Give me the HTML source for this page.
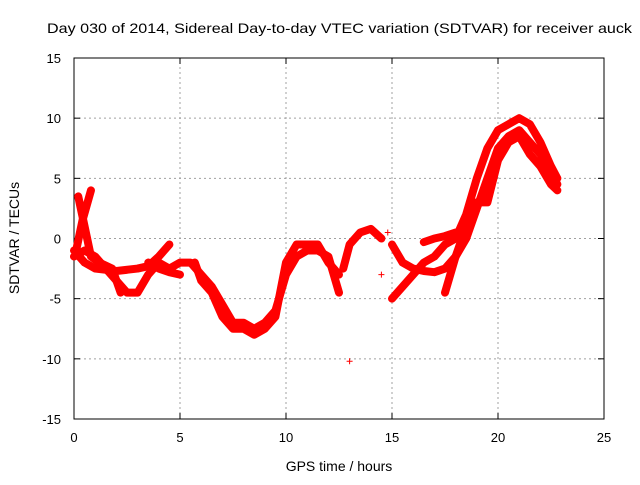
<!DOCTYPE html>
<html><head><meta charset="utf-8"><style>
body{margin:0;background:#fff}
svg text{font-family:"Liberation Sans",sans-serif;font-size:13px;fill:#000}
</style></head><body>
<svg width="640" height="480">
<rect width="640" height="480" fill="#fff"/>
<text x="47" y="33" textLength="585" lengthAdjust="spacingAndGlyphs" style="font-size:14px">Day 030 of 2014, Sidereal Day-to-day VTEC variation (SDTVAR) for receiver auck</text>
<g id="grid"></g><g id="axes"></g><g id="marks"></g>
<text x="339" y="471" text-anchor="middle" style="font-size:14px">GPS time / hours</text>
<text transform="translate(19,238) rotate(-90)" text-anchor="middle" style="font-size:14px">SDTVAR / TECUs</text>
</svg>
<script>
const xTicks=[0,5,10,15,20,25];
const yTicks=[-15,-10,-5,0,5,10,15];
const trackA=[[0,-1.5],[0.5,-1],[1,-1.5],[1.5,-2.5],[2,-3.5],[2.5,-4.5],[3,-4.5],[3.5,-3],[4,-2],[4.5,-2.5],[5,-2],[5.5,-2],[6,-3],[6.5,-4],[7,-5.5],[7.5,-7],[8,-7],[8.5,-7.5],[9,-7],[9.5,-6],[10,-3],[10.5,-1.5],[11,-1],[11.5,-1],[12,-1.5],[12.5,-4.5]];
const trackB=[[0,-1],[0.5,-2],[1,-2.5],[2,-2.7],[3,-2.5],[3.5,-2.3],[4,-1.5],[4.5,-0.5]];
const trackX1=[[0.2,3.5],[0.5,1],[0.8,-1.5],[1.2,-2],[1.8,-2.5],[2.2,-4.5]];
const trackX2=[[0.1,-1],[0.4,1.5],[0.8,4]];
const trackC=[[5.7,-2],[6,-3.5],[6.5,-4.5],[7,-6.5],[7.5,-7.5],[8,-7.5],[8.5,-8],[9,-7.5],[9.5,-6.5],[10,-2],[10.5,-0.5],[11,-0.5],[11.5,-0.5],[12,-2],[12.5,-3]];
const trackD=[[3.5,-2],[4,-2.5],[4.5,-2.8],[5,-3]];
const trackE=[[12.7,-2.5],[13,-0.5],[13.5,0.5],[14,0.8],[14.5,0]];
const trackF=[[15,-0.5],[15.5,-2],[16,-2.5],[16.5,-2.7],[17,-2.8],[17.5,-2.5],[18,-1.5],[18.5,0],[19,2.5],[19.5,5],[20,7.5],[20.5,8.5],[21,9],[21.5,8],[22,7],[22.5,5.5],[22.8,4.5]];
const trackG=[[15,-5],[15.5,-4],[16,-3],[16.5,-2],[17,-1.5],[17.5,-0.5],[18,0],[18.5,2],[19,5],[19.5,7.5],[20,9],[20.5,9.5],[21,10],[21.5,9.5],[22,8],[22.5,6],[22.8,5]];
const trackH=[[17.5,-4.5],[18,-1.5],[18.5,1],[19,3],[19.5,3],[20,6.5],[20.5,8],[21,8.5],[21.5,7],[22,6],[22.5,4.5],[22.8,4]];
const trackI=[[16.5,-0.3],[17,0],[17.5,0.2],[18,0.5],[18.5,0.5]];
const isolated=[[13,-10.2],[14.5,-3],[14.8,0.5]];
const tracks=[trackA,trackB,trackX1,trackX2,trackC,trackD,trackE,trackF,trackG,trackH,trackI];

const X0=74,X1=604,Y0=419,Y1=58;
const sx=v=>X0+(v-0)/(25-0)*(X1-X0);
const sy=v=>Y0-(v+15)/30*(Y0-Y1);
const NS='http://www.w3.org/2000/svg';
function mk(p,t,a){const e=document.createElementNS(NS,t);for(const k in a)e.setAttribute(k,a[k]);p.appendChild(e);return e;}
const grid=document.getElementById('grid'),axes=document.getElementById('axes'),marks=document.getElementById('marks');
xTicks.forEach(t=>{const x=sx(t);
 if(t>0&&t<25){const l=mk(grid,'line',{x1:x,x2:x,y1:Y0,y2:Y1,stroke:'#a0a0a0','stroke-dasharray':'2,3'});}
 mk(axes,'line',{x1:x,x2:x,y1:Y0,y2:Y0-6,stroke:'#000'});mk(axes,'line',{x1:x,x2:x,y1:Y1,y2:Y1+6,stroke:'#000'});
 const tx=mk(axes,'text',{x:x,y:Y0+23,'text-anchor':'middle'});tx.textContent=t;
 });
yTicks.forEach(t=>{const y=sy(t);
 if(t>-15&&t<15){const l=mk(grid,'line',{x1:X0,x2:X1,y1:y,y2:y,stroke:'#a0a0a0','stroke-dasharray':'2,3'});}
 mk(axes,'line',{x1:X0,x2:X0+6,y1:y,y2:y,stroke:'#000'});mk(axes,'line',{x1:X1,x2:X1-6,y1:y,y2:y,stroke:'#000'});
 const tx=mk(axes,'text',{x:X0-13,y:y+5,'text-anchor':'end'});tx.textContent=t;
 });
const fr=mk(axes,'rect',{x:X0,y:Y1,width:X1-X0,height:Y0-Y1,fill:'none',stroke:'#000'});

tracks.forEach(tr=>{
 const pl=mk(marks,'polyline',{points:tr.map(p=>sx(p[0])+','+sy(p[1])).join(' '),fill:'none',stroke:'#f00','stroke-width':8,'stroke-linejoin':'round','stroke-linecap':'round'});
 });
function plus(p){const x=sx(p[0]),y=sy(p[1]);
 const g=mk(marks,'path',{d:`M${x-3} ${y}H${x+3}M${x} ${y-3}V${y+3}`,stroke:'#f00','stroke-width':1});
 }
tracks.forEach(tr=>tr.forEach(plus));
isolated.forEach(plus);
</script>
</body></html>
